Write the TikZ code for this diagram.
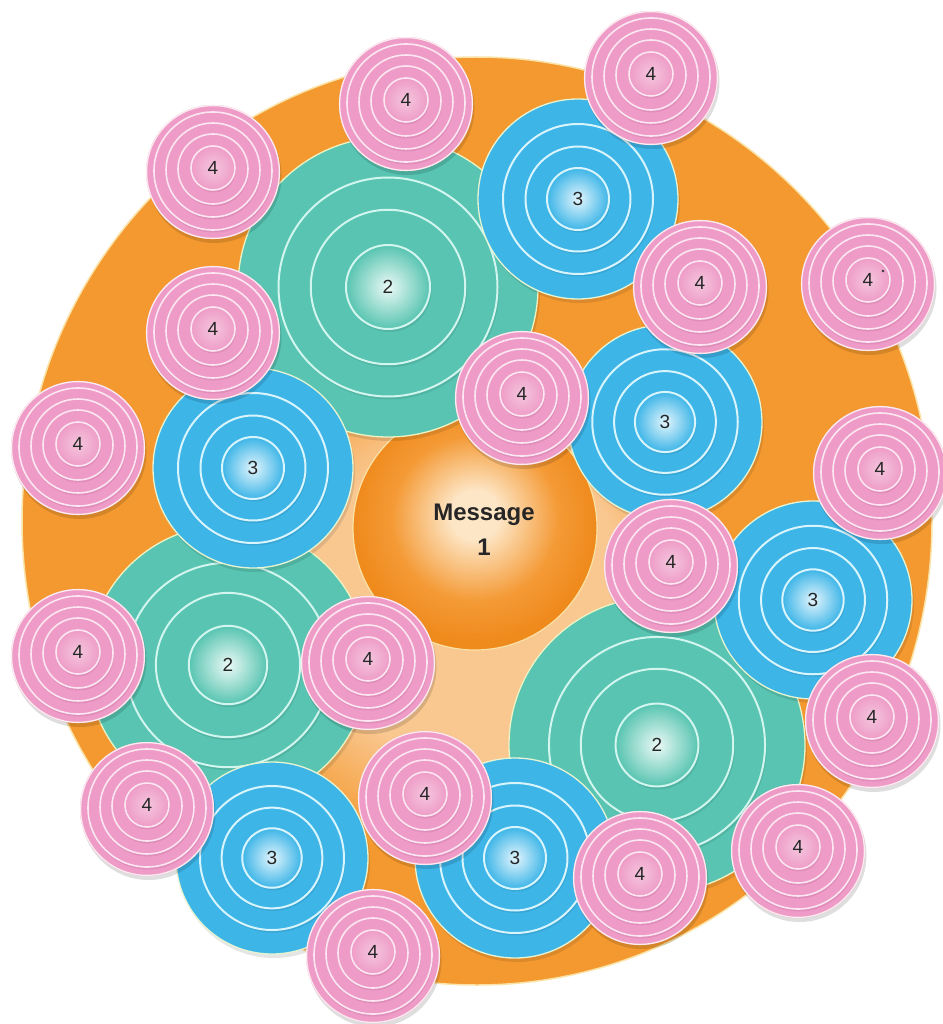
\documentclass[tikz,border=0pt]{standalone}
\usepackage{fontspec}
\newfontfamily\labfont{Liberation Sans}
\definecolor{orangec}{HTML}{F4992F}
\definecolor{orangeedge}{HTML}{FBE2A6}
\definecolor{peachc}{HTML}{F9C790}
\definecolor{msglight}{HTML}{FDE6C6}
\definecolor{msgc}{HTML}{F49A36}
\definecolor{msgdark}{HTML}{EF8A1C}
\definecolor{tealc}{HTML}{58C4B1}
\definecolor{teallight}{HTML}{EAF9F5}
\definecolor{tealring}{HTML}{D2F6EF}
\definecolor{tealedge}{HTML}{EEF3C4}
\definecolor{bluec}{HTML}{3DB5E7}
\definecolor{bluelight}{HTML}{E2F5FD}
\definecolor{bluering}{HTML}{D8F4FD}
\definecolor{blueedge}{HTML}{E6F4D2}
\definecolor{pinkc}{HTML}{EE9CC7}
\definecolor{pinklight}{HTML}{F5C6DE}
\definecolor{pinkshade}{HTML}{E08DBA}
\definecolor{pinkring}{HTML}{FBE6F1}
\definecolor{pinkedge}{HTML}{FCEBEF}
\pgfdeclareradialshading{msgshade}{\pgfpoint{0bp}{3bp}}{color(0bp)=(msglight);color(5bp)=(msglight);color(17bp)=(msgc);color(25bp)=(msgdark);color(50bp)=(msgdark)}
\pgfdeclareradialshading{peachshade}{\pgfpoint{0bp}{0bp}}{color(0bp)=(peachc);color(15bp)=(peachc);color(25bp)=(orangec);color(50bp)=(orangec)}
\tikzset{
  numlab/.style={font=\labfont\fontsize{19}{19}\selectfont, text=black!85, inner sep=0pt},
  msglab/.style={font=\labfont\bfseries\fontsize{24}{35}\selectfont, text=black!85, align=center, inner sep=0pt}
}
\newcommand{\tealball}[4]{%
\begin{scope}[shift={(#1,#2)}]
 \fill[black,opacity=0.10] (2,4) circle (#3pt);
 \fill[tealc] (0,0) circle (#3pt);
 \draw[tealedge,line width=1.3pt] (0,0) circle (#3pt);
 \foreach \f in {0.73,0.515}{%
   \fill[black,opacity=0.08] (1.5,3) circle ({\f*#3pt});
   \fill[tealc] (0,0) circle ({\f*#3pt});
   \draw[tealring,line width=2pt] (0,0) circle ({\f*#3pt});}
 \fill[black,opacity=0.08] (1.5,3) circle ({0.28*#3pt});
 \shade[inner color=teallight, outer color=tealc] (0,0) circle ({0.28*#3pt});
 \draw[tealring,line width=2pt] (0,0) circle ({0.28*#3pt});
 \node[numlab] (#4) at (0,0) {2};
\end{scope}}
\newcommand{\blueball}[4]{%
\begin{scope}[shift={(#1,#2)}]
 \fill[black,opacity=0.10] (2,4) circle (#3pt);
 \fill[bluec] (0,0) circle (#3pt);
 \draw[blueedge,line width=1.3pt] (0,0) circle (#3pt);
 \foreach \f in {0.75,0.525}{%
   \fill[black,opacity=0.08] (1.2,2.5) circle ({\f*#3pt});
   \fill[bluec] (0,0) circle ({\f*#3pt});
   \draw[bluering,line width=2pt] (0,0) circle ({\f*#3pt});}
 \fill[black,opacity=0.08] (1.2,2.5) circle ({0.31*#3pt});
 \shade[inner color=bluelight, outer color=bluec] (0,0) circle ({0.31*#3pt});
 \draw[bluering,line width=2pt] (0,0) circle ({0.31*#3pt});
 \node[numlab] (#4) at (0,0) {3};
\end{scope}}
\newcommand{\pinkball}[3]{%
\begin{scope}[shift={(#1,#2)}]
 \fill[black,opacity=0.13] (1.5,4) circle (67pt);
 \fill[pinkc] (0,0) circle (67pt);
 \draw[pinkedge,line width=1.3pt] (0,0) circle (66.4pt);
 \foreach \r/\o in {59/1,47/2,35/3}{%
   \fill[pinkshade] (0.8,{2.5-\o}) circle (\r pt);
   \fill[pinkc] (0,-\o) circle (\r pt);
   \draw[pinkring,line width=1.6pt] (0,-\o) circle (\r pt);}
 \fill[pinkshade] (0.8,-1.5) circle (22pt);
 \shade[inner color=pinklight, outer color=pinkc] (0,-4) circle (22pt);
 \draw[pinkring,line width=1.6pt] (0,-4) circle (22pt);
 \node[numlab] (#3) at (0,-4) {4};
\end{scope}}
\begin{document}
\begin{tikzpicture}[x=1pt,y=-1pt]
\useasboundingbox (0,0) rectangle (942,1024);
\fill[white] (0,0) rectangle (942,1024);
% big orange disc
\fill[orangec] (477,521) ellipse [x radius=455pt, y radius=464pt];
\draw[orangeedge,line width=1.5pt] (477,521) ellipse [x radius=455pt, y radius=464pt];
% peach glow around the message
\shade[shading=peachshade] (470,600) circle (265pt);
% message
\shade[shading=msgshade] (475,528) circle (122pt);
\draw[orangeedge,line width=1.2pt] (475,528) circle (122pt);
\node[msglab] (msg) at (484,530) {Message\\1};
% level 2
\tealball{388}{287}{150}{t1}
\tealball{228}{665}{140}{t2}
\tealball{657}{745}{148}{t3}
% level 3
\blueball{578}{199}{100}{b1}
\blueball{665}{422}{97}{b2}
\blueball{253}{468}{100}{b3}
\blueball{813}{600}{99}{b4}
\blueball{272}{858}{96}{b5}
\blueball{515}{858}{100}{b6}
% level 4
\pinkball{213}{172}{p1}
\pinkball{406}{104}{p2}
\pinkball{651}{78}{p3}
\pinkball{700}{287}{p4}
\pinkball{868}{284}{p5}
\pinkball{213}{333}{p6}
\pinkball{522}{398}{p7}
\pinkball{78}{448}{p8}
\pinkball{880}{473}{p9}
\pinkball{671}{566}{p10}
\pinkball{78}{656}{p11}
\pinkball{368}{663}{p12}
\pinkball{872}{721}{p13}
\pinkball{147}{809}{p14}
\pinkball{425}{798}{p15}
\pinkball{640}{878}{p16}
\pinkball{798}{851}{p17}
\pinkball{373}{956}{p18}
\fill[black!80] (883,271) circle (1.4pt);
\end{tikzpicture}
\end{document}
